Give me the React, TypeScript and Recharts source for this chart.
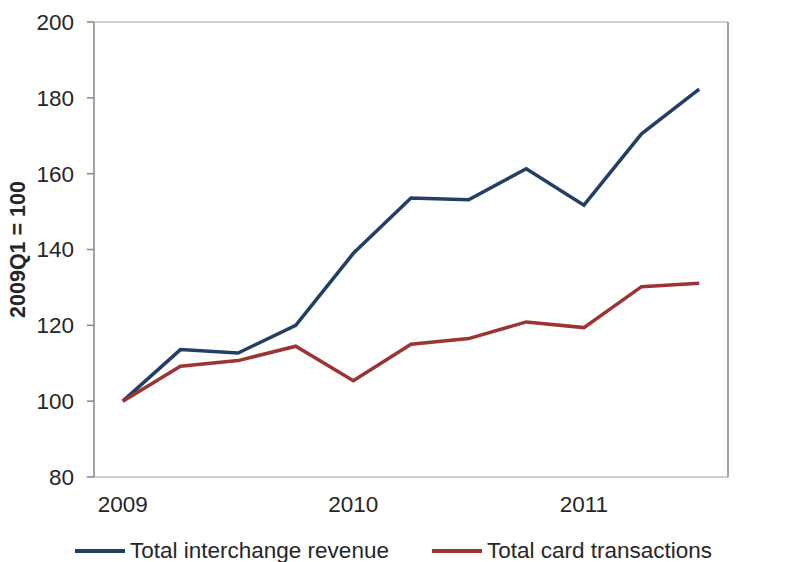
import React from "react";
import { LineChart, Line, XAxis, YAxis, CartesianGrid } from "recharts";

// ── Data ──────────────────────────────────────────────────────

const QUARTERS = [
  "2009Q1", "2009Q2", "2009Q3", "2009Q4",
  "2010Q1", "2010Q2", "2010Q3", "2010Q4",
  "2011Q1", "2011Q2", "2011Q3",
];

const INTERCHANGE = [100, 113.6, 112.7, 120, 139, 153.6, 153.1, 161.3, 151.7, 170.5, 182.3];
const TRANSACTIONS = [100, 109.2, 110.7, 114.5, 105.4, 115, 116.5, 120.9, 119.4, 130.2, 131.1];

const Y_TICKS = [80, 100, 120, 140, 160, 180, 200];
const YEAR_LABELS = ["2009", "2010", "2011"];

const COLORS = {
  interchange: "#243f66",
  transactions: "#9b3433",
  grid: "#c0c0c0",
  axis: "#868686",
  text: "#262626",
};

const FONT = "'Liberation Sans', Arial, sans-serif";

// x positions sit in the middle of each quarter band, tick marks on the band edges
const data = QUARTERS.map((q, i) => ({
  q,
  x: i + 0.5,
  interchange: INTERCHANGE[i],
  transactions: TRANSACTIONS[i],
}));

const bandTicks = QUARTERS.map((_, i) => i).concat(QUARTERS.length);
const yearTicks = YEAR_LABELS.map((_, i) => i * 4 + 0.5);

const tickStyle = { fontSize: 22.5, fill: COLORS.text, fontFamily: FONT };

export default function App() {
  return (
    <div style={{ position: "absolute", left: 0, top: 0, width: 788, height: 562, background: "#fff" }}>
      <LineChart
        width={788}
        height={562}
        data={data}
        margin={{ top: 22, right: 0, bottom: 55, left: 0 }}
      >
        <CartesianGrid vertical={false} stroke={COLORS.grid} strokeWidth={1.5} />
        <XAxis
          xAxisId="bands"
          dataKey="x"
          type="number"
          domain={[0, QUARTERS.length]}
          ticks={bandTicks}
          tickFormatter={() => ""}
          stroke={COLORS.axis}
          strokeWidth={1.5}
          tickSize={7}
          height={0}
        />
        <XAxis
          xAxisId="years"
          dataKey="x"
          type="number"
          domain={[0, QUARTERS.length]}
          ticks={yearTicks}
          tickFormatter={(v) => YEAR_LABELS[Math.round((v - 0.5) / 4)] ?? ""}
          axisLine={false}
          tickLine={false}
          tick={tickStyle}
          tickMargin={13}
          height={30}
        />
        <YAxis
          yAxisId="left"
          domain={[80, 200]}
          ticks={Y_TICKS}
          stroke={COLORS.axis}
          strokeWidth={1.5}
          tickSize={7}
          tickMargin={13}
          tick={tickStyle}
          width={94}
          label={{
            value: "2009Q1 = 100",
            angle: -90,
            position: "insideLeft",
            offset: 17,
            style: { textAnchor: "middle", fontSize: 21.5, fontWeight: 700, fill: COLORS.text, fontFamily: FONT },
          }}
        />
        <YAxis
          yAxisId="right"
          orientation="right"
          domain={[80, 200]}
          ticks={Y_TICKS}
          stroke={COLORS.axis}
          strokeWidth={1.5}
          tickSize={7}
          tickMargin={13}
          tick={tickStyle}
          width={60}
        />
        <Line
          xAxisId="bands"
          yAxisId="left"
          dataKey="interchange"
          stroke={COLORS.interchange}
          strokeWidth={3.5}
          dot={false}
          isAnimationActive={false}
        />
        <Line
          xAxisId="bands"
          yAxisId="left"
          dataKey="transactions"
          stroke={COLORS.transactions}
          strokeWidth={3.5}
          dot={false}
          isAnimationActive={false}
        />
      </LineChart>
      <div
        style={{
          position: "absolute",
          left: 75,
          top: 539,
          display: "flex",
          alignItems: "center",
          fontFamily: FONT,
          fontSize: 22.5,
          color: COLORS.text,
          whiteSpace: "nowrap",
          lineHeight: "24px",
        }}
      >
        <span style={{ display: "flex", alignItems: "center", width: 357 }}>
          <span style={{ width: 50, height: 4, background: COLORS.interchange, marginRight: 5 }} />
          Total interchange revenue
        </span>
        <span style={{ display: "flex", alignItems: "center" }}>
          <span style={{ width: 50, height: 4, background: COLORS.transactions, marginRight: 5 }} />
          Total card transactions
        </span>
      </div>
    </div>
  );
}
